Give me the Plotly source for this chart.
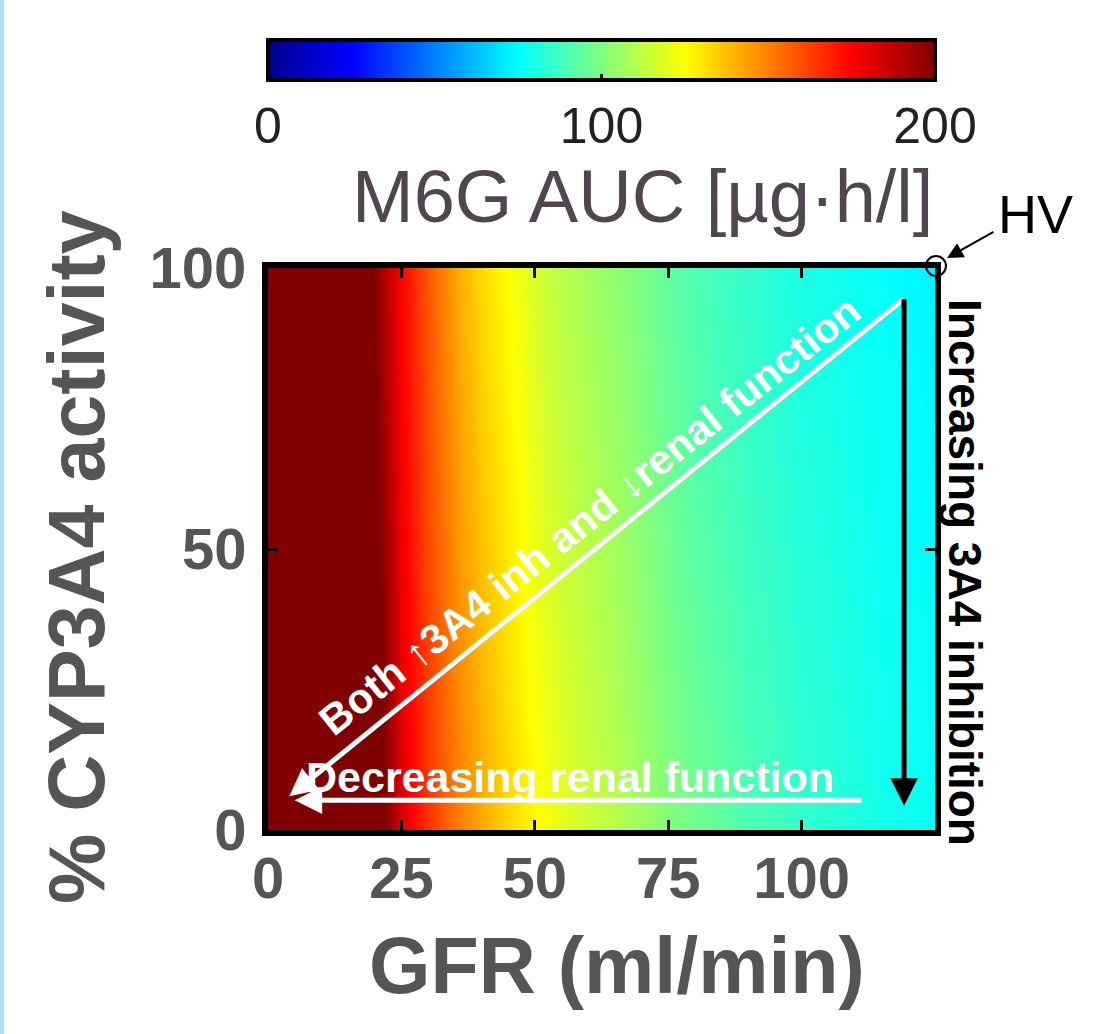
import plotly.graph_objects as go

# ---- data ----
gfr = [0, 5, 10, 15, 20, 25, 30, 35, 40, 45, 50, 55, 60, 65, 70, 75, 80, 85, 90, 95, 100, 105, 110, 115, 120, 125]
cyp = [0, 50, 100]
auc_cyp0 = [260, 258, 250, 235, 212, 182, 165, 152, 142, 133, 126, 120, 115, 111, 106, 101, 97, 94, 90, 88, 85, 83, 81, 79, 78, 77]
auc_cyp50 = [255, 253, 245, 228, 205, 178, 161, 147, 137, 129, 121, 115, 111, 107, 102, 97, 93, 90, 87, 85, 82, 81, 79, 77, 76, 75]
auc_cyp100 = [250, 248, 240, 220, 198, 175, 158, 143, 132, 125, 117, 111, 107, 103, 99, 94, 90, 87, 85, 82, 80, 79, 77, 76, 74, 73]
cbar_ticks = [0, 100, 200]
x_ticks = [0, 25, 50, 75, 100]
y_ticks = [0, 50, 100]

W, H = 1095, 1034
L, R, T, B = 268, 935, 268, 830  # plot area in pixels

jet = [[0.0, "rgb(0,0,143)"], [0.125, "rgb(0,0,255)"], [0.375, "rgb(0,255,255)"],
       [0.625, "rgb(255,255,0)"], [0.875, "rgb(255,0,0)"], [1.0, "rgb(128,0,0)"]]

def px(xp):
    return (xp - L) / (R - L)

def py(yp):
    return (B - yp) / (B - T)

fig = go.Figure()
fig.add_trace(go.Heatmap(
    x=gfr, y=cyp, z=[auc_cyp0, auc_cyp50, auc_cyp100],
    zmin=0, zmax=200, zsmooth="best", colorscale=jet,
    colorbar=dict(
        orientation="h",
        x=0.5, xanchor="center", y=py(40), yanchor="top",
        lenmode="pixels", len=R - L, thicknessmode="pixels", thickness=40,
        outlinewidth=4, outlinecolor="black", xpad=0, ypad=0,
        tickvals=cbar_ticks, ticks="inside", ticklen=8, tickwidth=3, tickcolor="black",
        tickfont=dict(size=50, color="#222", family="Liberation Sans"),
    ),
    hoverinfo="skip",
))

BOLD = "Liberation Sans"
GRAY = "#555555"
ann = []
# diagonal white arrow
ann.append(dict(x=4, y=6, ax=119.4, ay=94.7, xref="x", yref="y", axref="x", ayref="y",
                showarrow=True, arrowhead=2, arrowsize=1.1, arrowwidth=5, arrowcolor="white", text=""))
# horizontal white arrow
ann.append(dict(x=5, y=5.3, ax=111.5, ay=5.3, xref="x", yref="y", axref="x", ayref="y",
                showarrow=True, arrowhead=2, arrowsize=1.1, arrowwidth=5, arrowcolor="white", text=""))
# vertical black arrow
ann.append(dict(x=119.2, y=4.3, ax=119.2, ay=94.7, xref="x", yref="y", axref="x", ayref="y",
                showarrow=True, arrowhead=2, arrowsize=1.1, arrowwidth=5, arrowcolor="black", text=""))


def label(xp, yp, text, size, color, angle=0, xanchor="center"):
    ann.append(dict(x=px(xp), y=py(yp), xref="paper", yref="paper", showarrow=False,
                    xanchor=xanchor, yanchor="middle", textangle=angle, text=text,
                    font=dict(size=size, color=color, family=BOLD)))

label(570, 777, "<b>Decreasing renal function</b>", 43, "white")
label(589, 515, "<b>Both \u21913A4 inh and \u2193renal function</b>", 42, "white", angle=-38.5)
label(965, 572, "<b>Increasing 3A4 inhibition</b>", 46, "black", angle=90)
label(1035, 214, "HV", 54, "black")
label(935, 196, "M6G AUC [\u00b5g\u00b7h/l]", 74, "#50464f", xanchor="right")
label(617, 965, "<b>GFR (ml/min)</b>", 79, GRAY)
label(76, 557, "<b>% CYP3A4 activity</b>", 79, GRAY, angle=-90)

# HV pointer arrow
ann.append(dict(x=px(947), y=py(258), ax=48, ay=-27, xref="paper", yref="paper",
                axref="pixel", ayref="pixel", showarrow=True, arrowhead=2, arrowsize=1.6,
                arrowwidth=2, arrowcolor="black", text=""))

shapes = [
    # HV circle
    dict(type="circle", xref="paper", yref="paper", x0=px(926), x1=px(946), y0=py(256), y1=py(276),
         line=dict(color="black", width=2), fillcolor="rgba(0,0,0,0)"),
    # light blue strip at left edge
    dict(type="rect", xref="paper", yref="paper", x0=px(0), x1=px(4), y0=py(H), y1=py(0),
         line=dict(width=0), fillcolor="#b5dcf7", layer="below"),
]

axis_common = dict(showline=True, linecolor="black", linewidth=6, mirror="ticks",
                   ticks="inside", ticklen=10, tickwidth=3, tickcolor="black",
                   showgrid=False, zeroline=False, automargin=False,
                   tickfont=dict(size=58, color=GRAY, family=BOLD))
fig.update_layout(
    width=W, height=H, autosize=False,
    margin=dict(l=L, r=W - R, t=T, b=H - B, pad=0, autoexpand=False),
    paper_bgcolor="white", plot_bgcolor="white",
    xaxis=dict(range=[0, 125], tickvals=x_ticks, ticktext=[f"<b>{v}</b>" for v in x_ticks],
               ticklabelstandoff=-8, **axis_common),
    yaxis=dict(range=[0, 100], tickvals=y_ticks, ticktext=[f"<b>{v}</b>" for v in y_ticks],
               ticklabelstandoff=4, **axis_common),
    annotations=ann, shapes=shapes, showlegend=False,
)
fig.write_html("out.html", config={"displayModeBar": False},
               post_script="document.body.style.margin='0px';")
